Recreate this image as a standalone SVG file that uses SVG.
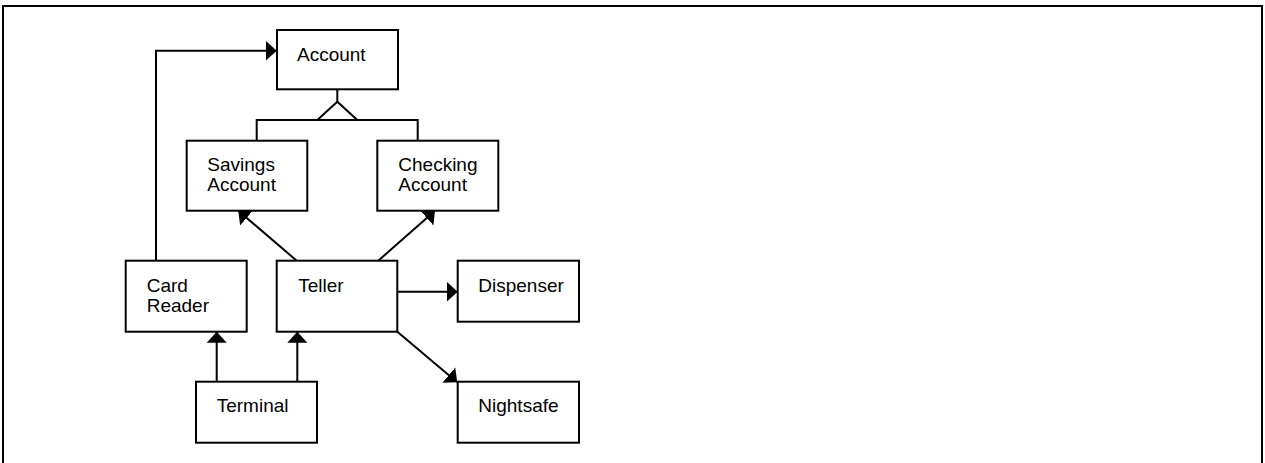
<svg xmlns="http://www.w3.org/2000/svg" width="1265" height="463" viewBox="0 0 1265 463">
  <style>
    .box { fill: #fff; stroke: #000; stroke-width: 2; }
    .lbl { font-family: "Liberation Sans", Arial, sans-serif; font-size: 19px; fill: #000; }
    .conn { fill: none; stroke: #000; stroke-width: 2; }
    .frame { fill: none; stroke: #000; stroke-width: 2; }
  </style>
  <defs>
    <marker id="arrow" markerUnits="userSpaceOnUse" markerWidth="12" markerHeight="22" viewBox="0 -11 12 22" refX="11" refY="0" orient="auto">
      <path d="M0,-10 L11,0 L0,10 z" fill="#000"/>
    </marker>
  </defs>
  <rect width="1265" height="463" fill="#fff"/>
  <!-- outer frame, open at the bottom -->
  <path class="frame" d="M3,463 V6 H1262 V463"/>

  <g id="connectors">
    <!-- Card Reader to Account -->
    <path class="conn" d="M156,260.7 V50.7 H276.7" marker-end="url(#arrow)"/>
    <!-- generalisation: Account to subclasses -->
    <path class="conn" d="M337.3,89.3 V101.7"/>
    <path class="conn" d="M256.7,140.7 V120 H417.7 V140.7"/>
    <polygon points="337.3,101.7 317.3,120 357.3,120" fill="#fff" stroke="#000" stroke-width="2"/>
    <!-- Teller associations -->
    <path class="conn" d="M296.7,260.7 L238.3,210.7" marker-end="url(#arrow)"/>
    <path class="conn" d="M378.3,260.7 L435,210.7" marker-end="url(#arrow)"/>
    <path class="conn" d="M397.3,291.7 H457.7" marker-end="url(#arrow)"/>
    <path class="conn" d="M397.3,331.7 L457.2,382.2" marker-end="url(#arrow)"/>
    <!-- Terminal associations -->
    <path class="conn" d="M216.7,381.7 V331.7" marker-end="url(#arrow)"/>
    <path class="conn" d="M297.3,381.7 V331.7" marker-end="url(#arrow)"/>
  </g>

  <g id="account">
    <rect class="box" x="277" y="30" width="121" height="59.3"/>
    <text class="lbl" x="297" y="61">Account</text>
  </g>
  <g id="savings-account">
    <rect class="box" x="186.7" y="140.7" width="120.6" height="70"/>
    <text class="lbl" x="207.3" y="170.7">Savings</text>
    <text class="lbl" x="207.3" y="190.7">Account</text>
  </g>
  <g id="checking-account">
    <rect class="box" x="377.3" y="140.7" width="121" height="70"/>
    <text class="lbl" x="398.3" y="170.7">Checking</text>
    <text class="lbl" x="398.3" y="190.7">Account</text>
  </g>
  <g id="card-reader">
    <rect class="box" x="125.7" y="260.7" width="121" height="71"/>
    <text class="lbl" x="146.7" y="291.7">Card</text>
    <text class="lbl" x="146.7" y="311.7">Reader</text>
  </g>
  <g id="teller">
    <rect class="box" x="276.7" y="260.7" width="120.6" height="71"/>
    <text class="lbl" x="298.3" y="291.7">Teller</text>
  </g>
  <g id="dispenser">
    <rect class="box" x="457.7" y="260.7" width="121.3" height="61"/>
    <text class="lbl" x="478.3" y="291.7">Dispenser</text>
  </g>
  <g id="terminal">
    <rect class="box" x="196" y="381.7" width="121" height="61"/>
    <text class="lbl" x="216.7" y="411.7">Terminal</text>
  </g>
  <g id="nightsafe">
    <rect class="box" x="457.7" y="381.7" width="121.3" height="61"/>
    <text class="lbl" x="478.3" y="411.7">Nightsafe</text>
  </g>
</svg>
